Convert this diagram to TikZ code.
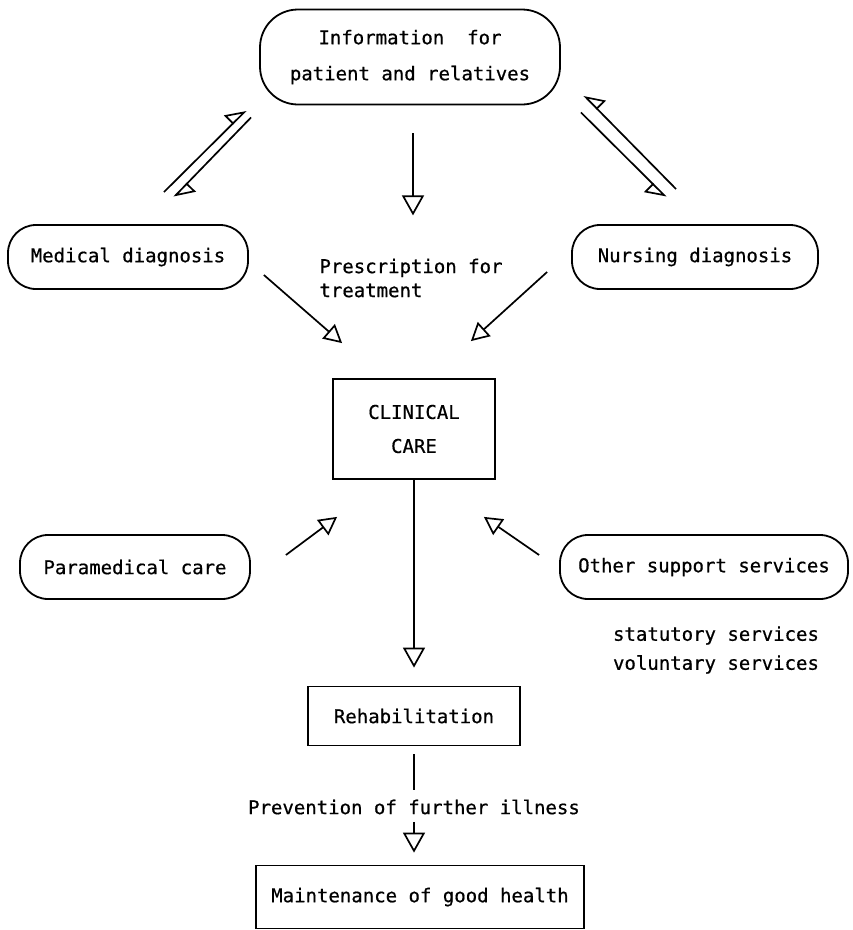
\documentclass[tikz,border=0pt]{standalone}
\usepackage{fontspec}
\newfontfamily\diagfont{DejaVu Sans Mono}[FakeBold=0.6]
\usetikzlibrary{arrows.meta, calc}
\tikzset{
  box/.style={draw=black, line width=1.8pt, align=center,
              font=\diagfont\fontsize{19}{24}\selectfont, inner sep=0pt, fill=white},
  pillbox/.style={box, rounded corners=28pt},
  lbl/.style={font=\diagfont\fontsize{19}{24}\selectfont, align=left},
  flow/.style={-{Triangle[open, length=18pt, width=19pt]}, line width=1.7pt},
  flowv/.style={-{Triangle[open, length=20pt, width=22pt]}, line width=1.7pt},
  harpl/.style={-{Triangle[open, left, length=18pt, width=24pt]}, line width=1.7pt},
  harpr/.style={-{Triangle[open, right, length=18pt, width=24pt]}, line width=1.7pt},
}

\begin{document}
\begin{tikzpicture}[x=1pt, y=-1pt]
  \useasboundingbox[fill=white] (0,0) rectangle (853,930);

  % Boxes
  \node[pillbox, rounded corners=38pt, minimum width=300pt, minimum height=95pt] (info)
    at (410,57) {Information~~for\\[12pt]patient and relatives};
  \node[pillbox, minimum width=240pt, minimum height=64pt] (med) at (128,257) {Medical diagnosis};
  \node[pillbox, minimum width=246pt, minimum height=64pt] (nurse) at (695,257) {Nursing diagnosis};
  \node[lbl] (presc) at (411,278) {Prescription for\\treatment};
  \node[box, minimum width=162pt, minimum height=100pt] (clin) at (414,429) {CLINICAL\\[10pt]CARE};
  \node[pillbox, minimum width=230pt, minimum height=64pt] (para) at (135,567) {Paramedical care};
  \node[pillbox, minimum width=288pt, minimum height=64pt] (other) at (704,567) {Other support services};
  \node[lbl] (serv) at (716,650) {statutory services\\[5pt]voluntary services};
  \node[box, minimum width=212pt, minimum height=59pt] (rehab) at (414,716) {Rehabilitation};
  \node[lbl] (prev) at (414,807) {Prevention of further illness};
  \node[box, minimum width=328pt, minimum height=63pt] (maint) at (420,897) {Maintenance of good health};

  % Information <-> diagnoses
  \draw[harpl] ($(med.north east)+(-85,-32)$) -- ($(info.south west)+(-13,5)$);
  \draw[harpl] ($(info.south west)+(-8,12)$) -- ($(med.north east)+(-75,-27)$);
  \draw[harpr] ($(nurse.north west)+(105,-35)$) -- ($(info.south east)+(23,-10)$);
  \draw[harpr] ($(info.south east)+(20,7)$) -- ($(nurse.north west)+(95,-27)$);
  \draw[flowv] ($(info.south)+(3,28)$) -- ($(info.south)+(3,110)$);

  % Into clinical care
  \draw[flow] ($(med.east)+(15,18)$) -- ($(clin.north west)+(10,-35)$);
  \draw[flow] ($(nurse.west)+(-24,15)$) -- ($(clin.north east)+(-25,-37)$);
  \draw[flow] ($(para.east)+(35,-12)$) -- ($(clin.south west)+(5,37)$);
  \draw[flow] ($(other.west)+(-20,-12)$) -- ($(clin.south east)+(-12,37)$);

  % Down the chain
  \draw[flowv] (clin.south) -- ($(rehab.north)+(0,-18)$);
  \draw[line width=1.7pt] ($(rehab.south)+(0,8)$) -- ($(prev.north)+(0,-6)$);
  \draw[flowv] ($(prev.south)+(0,4)$) -- ($(maint.north)+(-6,-12)$);
\end{tikzpicture}
\end{document}
